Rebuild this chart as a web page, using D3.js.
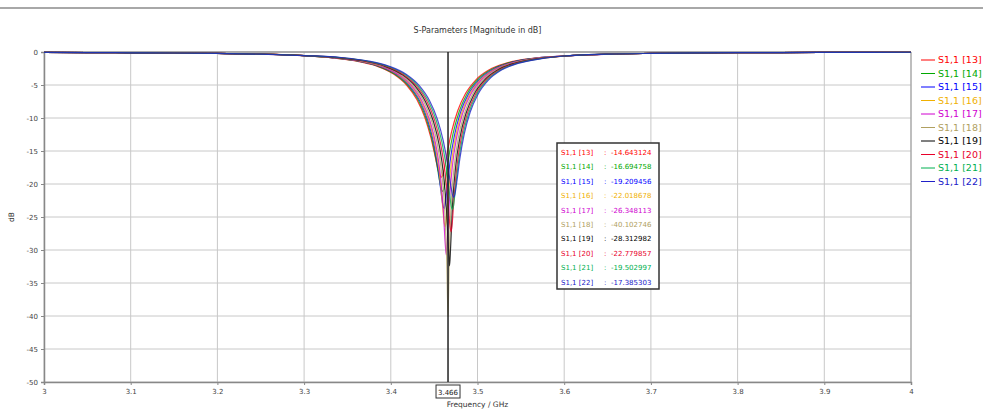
<!DOCTYPE html>
<html><head><meta charset="utf-8">
<script src="https://cdn.jsdelivr.net/npm/d3@7"></script>
<style>
html,body{margin:0;padding:0;background:#fff;overflow:hidden;}
svg{display:block;font-family:"DejaVu Sans",Verdana,sans-serif;}
</style></head>
<body>
<svg id="chart" width="983" height="412"></svg>
<script>
// ---- data ----
const title = "S-Parameters [Magnitude in dB]";
const xLabel = "Frequency / GHz";
const yLabel = "dB";
const xTicks = [3, 3.1, 3.2, 3.3, 3.4, 3.5, 3.6, 3.7, 3.8, 3.9, 4];
const xTickLabels = ["3", "3.1", "3.2", "3.3", "3.4", "3.5", "3.6", "3.7", "3.8", "3.9", "4"];
const yTicks = [0, -5, -10, -15, -20, -25, -30, -35, -40, -45, -50];
const markerFreq = 3.466;
const markerLabel = "3.466";
const seriesNames = ["S1,1 [13]", "S1,1 [14]", "S1,1 [15]", "S1,1 [16]", "S1,1 [17]", "S1,1 [18]", "S1,1 [19]", "S1,1 [20]", "S1,1 [21]", "S1,1 [22]"];
const markerValues = ["-14.643124", "-16.694758", "-19.209456", "-22.018678", "-26.348113", "-40.102746", "-28.312982", "-22.779857", "-19.502997", "-17.385303"];
const seriesColors = ["#ff0000", "#00a800", "#0000ff", "#f0b000", "#d000d0", "#b0a060", "#000000", "#e8002a", "#00b050", "#2020c8"];

const freq13 = [3.00,3.05,3.10,3.15,3.20,3.25,3.30,3.3282,3.3582,3.3832,3.4032,3.4182,3.4302,3.4392,3.4462,3.4512,3.4547,3.4570,3.4582,3.4594,3.4617,3.4652,3.4702,3.4772,3.4862,3.4982,3.5132,3.5332,3.5582,3.60,3.65,3.70,3.75,3.80,3.85,3.90,3.95,4.00];
const freq14 = [3.00,3.05,3.10,3.15,3.20,3.25,3.30,3.3298,3.3598,3.3848,3.4048,3.4198,3.4318,3.4408,3.4478,3.4528,3.4563,3.4586,3.4598,3.4610,3.4633,3.4668,3.4718,3.4788,3.4878,3.4998,3.5148,3.5348,3.5598,3.60,3.65,3.70,3.75,3.80,3.85,3.90,3.95,4.00];
const freq15 = [3.00,3.05,3.10,3.15,3.20,3.25,3.30,3.3314,3.3614,3.3864,3.4064,3.4214,3.4334,3.4424,3.4494,3.4544,3.4579,3.4602,3.4614,3.4626,3.4649,3.4684,3.4734,3.4804,3.4894,3.5014,3.5164,3.5364,3.5614,3.60,3.65,3.70,3.75,3.80,3.85,3.90,3.95,4.00];
const freq16 = [3.00,3.05,3.10,3.15,3.20,3.25,3.30,3.3327,3.3627,3.3877,3.4077,3.4227,3.4347,3.4437,3.4507,3.4557,3.4592,3.4615,3.4627,3.4639,3.4662,3.4697,3.4747,3.4817,3.4907,3.5027,3.5177,3.5377,3.5627,3.60,3.65,3.70,3.75,3.80,3.85,3.90,3.95,4.00];
const freq17 = [3.00,3.05,3.10,3.15,3.20,3.25,3.30,3.3340,3.3640,3.3890,3.4090,3.4240,3.4360,3.4450,3.4520,3.4570,3.4605,3.4628,3.4640,3.4652,3.4675,3.4710,3.4760,3.4830,3.4920,3.5040,3.5190,3.5390,3.5640,3.60,3.65,3.70,3.75,3.80,3.85,3.90,3.95,4.00];
const freq18 = [3.00,3.05,3.10,3.15,3.20,3.25,3.30,3.3360,3.3660,3.3910,3.4110,3.4260,3.4380,3.4470,3.4540,3.4590,3.4625,3.4648,3.4660,3.4672,3.4695,3.4730,3.4780,3.4850,3.4940,3.5060,3.5210,3.5410,3.5660,3.60,3.65,3.70,3.75,3.80,3.85,3.90,3.95,4.00];
const freq19 = [3.00,3.05,3.10,3.15,3.20,3.25,3.30,3.3378,3.3678,3.3928,3.4128,3.4278,3.4398,3.4488,3.4558,3.4608,3.4643,3.4666,3.4678,3.4690,3.4713,3.4748,3.4798,3.4868,3.4958,3.5078,3.5228,3.5428,3.5678,3.60,3.65,3.70,3.75,3.80,3.85,3.90,3.95,4.00];
const freq20 = [3.00,3.05,3.10,3.15,3.20,3.25,3.30,3.3395,3.3695,3.3945,3.4145,3.4295,3.4415,3.4505,3.4575,3.4625,3.4660,3.4683,3.4695,3.4707,3.4730,3.4765,3.4815,3.4885,3.4975,3.5095,3.5245,3.5445,3.5695,3.60,3.65,3.70,3.75,3.80,3.85,3.90,3.95,4.00];
const freq21 = [3.00,3.05,3.10,3.15,3.20,3.25,3.30,3.3411,3.3711,3.3961,3.4161,3.4311,3.4431,3.4521,3.4591,3.4641,3.4676,3.4699,3.4711,3.4723,3.4746,3.4781,3.4831,3.4901,3.4991,3.5111,3.5261,3.5461,3.5711,3.60,3.65,3.70,3.75,3.80,3.85,3.90,3.95,4.00];
const freq22 = [3.00,3.05,3.10,3.15,3.20,3.25,3.30,3.3426,3.3726,3.3976,3.4176,3.4326,3.4446,3.4536,3.4606,3.4656,3.4691,3.4714,3.4726,3.4738,3.4761,3.4796,3.4846,3.4916,3.5006,3.5126,3.5276,3.5476,3.5726,3.60,3.65,3.70,3.75,3.80,3.85,3.90,3.95,4.00];

const db13 = [-0.07,-0.09,-0.12,-0.15,-0.22,-0.32,-0.54,-0.83,-1.32,-2.11,-3.34,-5.00,-7.23,-9.88,-12.95,-15.86,-17.95,-18.83,-18.96,-18.78,-17.66,-15.19,-12.03,-8.90,-6.30,-4.21,-2.72,-1.68,-1.03,-0.61,-0.33,-0.21,-0.14,-0.10,-0.08,-0.06,-0.05,-0.04];
const db14 = [-0.07,-0.09,-0.12,-0.15,-0.22,-0.32,-0.54,-0.83,-1.32,-2.13,-3.37,-5.05,-7.32,-10.08,-13.39,-16.77,-19.56,-20.92,-21.14,-20.84,-19.15,-15.96,-12.38,-9.05,-6.37,-4.24,-2.74,-1.69,-1.03,-0.61,-0.33,-0.21,-0.14,-0.10,-0.08,-0.06,-0.05,-0.04];
const db15 = [-0.07,-0.09,-0.12,-0.15,-0.22,-0.32,-0.54,-0.84,-1.33,-2.14,-3.38,-5.08,-7.39,-10.22,-13.71,-17.54,-21.17,-23.32,-23.71,-23.19,-20.58,-16.58,-12.63,-9.15,-6.42,-4.27,-2.76,-1.70,-1.04,-0.61,-0.33,-0.21,-0.14,-0.10,-0.08,-0.06,-0.05,-0.04];
const db16 = [-0.07,-0.09,-0.12,-0.15,-0.22,-0.32,-0.54,-0.84,-1.33,-2.14,-3.39,-5.10,-7.43,-10.31,-13.91,-18.06,-22.49,-25.77,-26.48,-25.56,-21.71,-16.99,-12.78,-9.22,-6.45,-4.28,-2.77,-1.70,-1.04,-0.61,-0.33,-0.21,-0.14,-0.10,-0.08,-0.06,-0.05,-0.04];
const db17 = [-0.07,-0.09,-0.12,-0.15,-0.22,-0.32,-0.54,-0.84,-1.33,-2.15,-3.40,-5.11,-7.46,-10.37,-14.06,-18.46,-23.74,-29.07,-30.76,-28.62,-22.72,-17.30,-12.89,-9.26,-6.47,-4.29,-2.77,-1.70,-1.04,-0.61,-0.33,-0.21,-0.14,-0.10,-0.08,-0.06,-0.05,-0.04];
const db18 = [-0.07,-0.09,-0.12,-0.15,-0.22,-0.32,-0.54,-0.84,-1.34,-2.15,-3.41,-5.12,-7.48,-10.40,-14.15,-18.69,-24.57,-33.03,-40.10,-32.00,-23.37,-17.47,-12.95,-9.29,-6.48,-4.30,-2.77,-1.71,-1.04,-0.61,-0.33,-0.21,-0.14,-0.10,-0.08,-0.06,-0.05,-0.04];
const db19 = [-0.07,-0.09,-0.12,-0.15,-0.22,-0.32,-0.54,-0.84,-1.33,-2.15,-3.40,-5.11,-7.46,-10.38,-14.09,-18.54,-24.02,-30.11,-32.40,-29.55,-22.94,-17.36,-12.92,-9.28,-6.48,-4.30,-2.77,-1.70,-1.04,-0.61,-0.33,-0.21,-0.14,-0.10,-0.08,-0.06,-0.05,-0.04];
const db20 = [-0.07,-0.09,-0.12,-0.15,-0.22,-0.32,-0.54,-0.84,-1.33,-2.14,-3.40,-5.10,-7.44,-10.32,-13.95,-18.16,-22.78,-26.40,-27.24,-26.16,-21.94,-17.07,-12.81,-9.23,-6.46,-4.28,-2.77,-1.70,-1.04,-0.61,-0.33,-0.21,-0.14,-0.10,-0.08,-0.06,-0.05,-0.04];
const db21 = [-0.07,-0.09,-0.12,-0.15,-0.22,-0.32,-0.54,-0.84,-1.33,-2.14,-3.38,-5.08,-7.39,-10.23,-13.73,-17.58,-21.26,-23.47,-23.87,-23.34,-20.66,-16.61,-12.64,-9.16,-6.42,-4.27,-2.76,-1.70,-1.04,-0.61,-0.33,-0.21,-0.14,-0.10,-0.08,-0.06,-0.05,-0.04];
const db22 = [-0.07,-0.09,-0.12,-0.15,-0.22,-0.32,-0.54,-0.83,-1.33,-2.13,-3.37,-5.06,-7.35,-10.14,-13.52,-17.07,-20.15,-21.74,-22.01,-21.65,-19.67,-16.20,-12.48,-9.09,-6.39,-4.25,-2.74,-1.69,-1.03,-0.61,-0.33,-0.21,-0.14,-0.10,-0.08,-0.06,-0.05,-0.04];

const freqs = [freq13, freq14, freq15, freq16, freq17, freq18, freq19, freq20, freq21, freq22];
const dbs = [db13, db14, db15, db16, db17, db18, db19, db20, db21, db22];

// ---- drawing ----
const svg = d3.select("#chart");
const W = 983, H = 412;
const pL = 44, pR = 911, pT = 52, pB = 382;
const x = d3.scaleLinear().domain([3, 4]).range([pL, pR]);
const y = d3.scaleLinear().domain([0, -50]).range([pT, pB]);

// top separator
svg.append("rect").attr("x", 0).attr("y", 7).attr("width", W).attr("height", 2).attr("fill", "#a8a8a8");

// title
svg.append("text").attr("x", (pL + pR) / 2).attr("y", 33).attr("text-anchor", "middle")
  .attr("font-size", 8).attr("fill", "#333").text(title);

// grid
const g = svg.append("g");
g.selectAll(".gx").data(xTicks).join("line")
  .attr("x1", d => x(d)).attr("x2", d => x(d)).attr("y1", pT).attr("y2", pB)
  .attr("stroke", "#c8c8c8").attr("stroke-width", 1);
g.selectAll(".gy").data(yTicks).join("line")
  .attr("x1", pL).attr("x2", pR).attr("y1", d => y(d)).attr("y2", d => y(d))
  .attr("stroke", "#c8c8c8").attr("stroke-width", 1);

// axes
const xAxis = d3.axisBottom(x).tickValues(xTicks).tickSize(3).tickPadding(4)
  .tickFormat((d, i) => xTickLabels[i]);
const yAxis = d3.axisLeft(y).tickValues(yTicks).tickSize(3).tickPadding(3)
  .tickFormat(d => String(d));
const gx = svg.append("g").attr("transform", `translate(0,${pB})`).call(xAxis);
const gy = svg.append("g").attr("transform", `translate(${pL},0)`).call(yAxis);
[gx, gy].forEach(a => {
  a.select(".domain").attr("stroke", "#888").attr("stroke-width", 1.5);
  a.selectAll(".tick line").attr("stroke", "#888");
  a.selectAll(".tick text").attr("fill", "#444").attr("font-size", 7)
    .attr("font-family", "'DejaVu Sans',sans-serif");
});
// frame top and right
svg.append("line").attr("x1", pL).attr("x2", pR).attr("y1", pT).attr("y2", pT)
  .attr("stroke", "#999").attr("stroke-width", 1.5);
svg.append("line").attr("x1", pR).attr("x2", pR).attr("y1", pT).attr("y2", pB)
  .attr("stroke", "#999").attr("stroke-width", 1);

// axis labels
svg.append("text").attr("x", (pL + pR) / 2).attr("y", 407).attr("text-anchor", "middle")
  .attr("font-size", 7.5).attr("fill", "#333").text(xLabel);
svg.append("text").attr("transform", `translate(14,${(pT + pB) / 2}) rotate(-90)`)
  .attr("text-anchor", "middle").attr("font-size", 7.5).attr("fill", "#333").text(yLabel);

// curves
const line = d3.line().x(d => x(d[0])).y(d => y(d[1])).curve(d3.curveMonotoneX);
svg.append("clipPath").attr("id", "clip").append("rect")
  .attr("x", pL).attr("y", pT - 2).attr("width", pR - pL).attr("height", pB - pT + 2);
const curves = svg.append("g").attr("clip-path", "url(#clip)");
seriesNames.forEach((name, i) => {
  const pts = freqs[i].map((f, j) => [f, dbs[i][j]]);
  curves.append("path").datum(pts).attr("d", line)
    .attr("fill", "none").attr("stroke", seriesColors[i]).attr("stroke-width", 1.2)
    .attr("stroke-opacity", 0.8);
});

// marker line
svg.append("line").attr("x1", x(markerFreq)).attr("x2", x(markerFreq))
  .attr("y1", pT).attr("y2", pB).attr("stroke", "#222").attr("stroke-width", 1.5);
// marker label box
const mg = svg.append("g");
mg.append("rect").attr("x", x(markerFreq) - 12).attr("y", 385).attr("width", 24).attr("height", 13)
  .attr("fill", "#fff").attr("stroke", "#333").attr("stroke-width", 1);
mg.append("text").attr("x", x(markerFreq)).attr("y", 394.5).attr("text-anchor", "middle")
  .attr("font-size", 7).attr("fill", "#222").text(markerLabel);

// marker value box
const bx = 557, by = 143, bw = 102, bh = 146, rowH = 14.4;
svg.append("rect").attr("x", bx).attr("y", by).attr("width", bw).attr("height", bh)
  .attr("fill", "#fff").attr("stroke", "#333").attr("stroke-width", 1.5);
const rows = svg.append("g");
seriesNames.forEach((name, i) => {
  const ty = by + 12 + i * rowH;
  rows.append("text").attr("x", bx + 4).attr("y", ty).attr("font-size", 7)
    .attr("fill", seriesColors[i]).text(name);
  rows.append("text").attr("x", bx + 47).attr("y", ty).attr("font-size", 7)
    .attr("fill", seriesColors[i]).text(":");
  rows.append("text").attr("x", bx + 54).attr("y", ty).attr("font-size", 7)
    .attr("fill", seriesColors[i]).text(markerValues[i]);
});

// legend
const lg = svg.append("g");
seriesNames.forEach((name, i) => {
  const ly = 60 + i * 13.5;
  lg.append("line").attr("x1", 921).attr("x2", 935).attr("y1", ly).attr("y2", ly)
    .attr("stroke", seriesColors[i]).attr("stroke-width", 1);
  lg.append("text").attr("x", 938).attr("y", ly + 3).attr("font-size", 9.5)
    .attr("fill", seriesColors[i]).text(name);
});
</script>
</body></html>
